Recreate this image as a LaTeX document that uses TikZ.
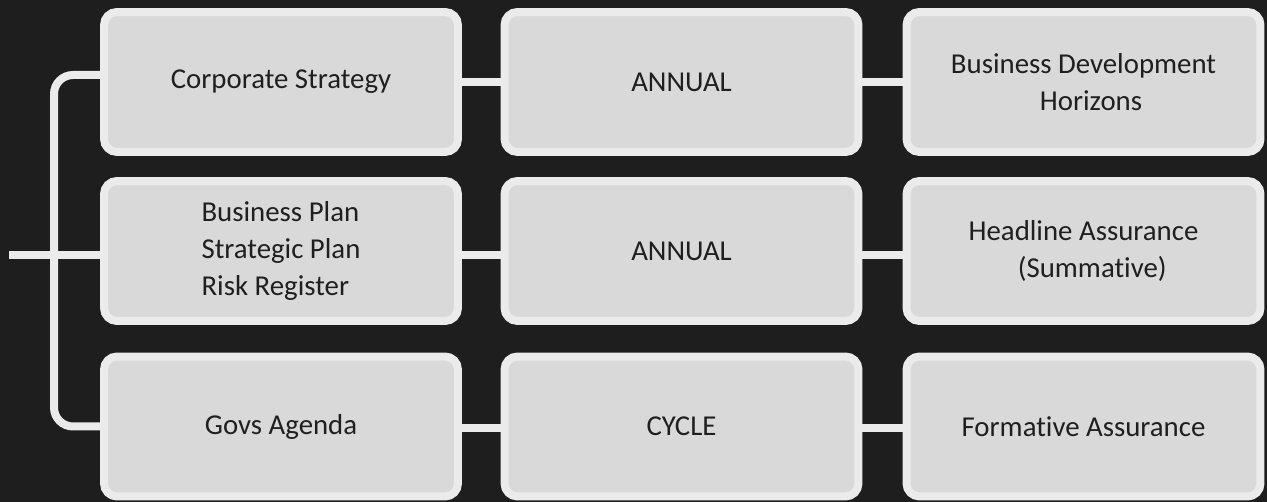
\documentclass[tikz,border=0pt]{standalone}
\usepackage{fontspec}
\setmainfont[Ligatures={NoCommon}]{Carlito}
\usetikzlibrary{calc}
\definecolor{bgdark}{HTML}{1E1E1E}
\definecolor{boxline}{HTML}{EBEBEB}
\definecolor{boxfill}{HTML}{D9D9D9}
\definecolor{boxtext}{HTML}{1F1F1F}

\begin{document}
\begin{tikzpicture}[
  x=0.02cm, y=-0.02cm,
  stage/.style={draw=boxline, line width=0.16cm, fill=boxfill, rounded corners=0.26cm, minimum width=7.08cm, minimum height=2.8cm, inner sep=0pt, align=center, text=boxtext, font=\fontsize{16.4pt}{21.3pt}\selectfont},
  link/.style={draw=boxline, line width=0.16cm}
]
\fill[bgdark] (0,0) rectangle (1267,502);
\useasboundingbox (0,0) rectangle (1267,502);

\node[stage] (corp) at (281,82) {Corporate Strategy};
\node[stage] (annualA) at (681.5,82) {ANNUAL};
\node[stage] (bizdev) at (1083.5,82) {Business Development\\\hspace*{0.3cm}Horizons};
\node[stage, align=left] (plans) at (281,251) {Business Plan\\Strategic Plan\\Risk Register};
\node[stage] (annualB) at (681.5,251) {ANNUAL};
\node[stage] (headline) at (1083.5,251) {Headline Assurance\\\hspace*{0.35cm}(Summative)};
\node[stage] (govs) at (281,426.5) {Govs Agenda};
\node[stage] (cycle) at (681.5,426.5) {CYCLE};
\node[stage] (formative) at (1083.5,426.5) {Formative Assurance};

\coordinate (stub) at (9,255);
\coordinate (spine) at (54,255);

\draw[link] (corp.east) -- (annualA.west);
\draw[link] (annualA.east) -- (bizdev.west);
\draw[link] ([yshift=-0.08cm]plans.east) -- ([yshift=-0.08cm]annualB.west);
\draw[link] ([yshift=-0.08cm]annualB.east) -- ([yshift=-0.08cm]headline.west);
\draw[link] ([yshift=-0.03cm]govs.east) -- ([yshift=-0.03cm]cycle.west);
\draw[link] ([yshift=-0.03cm]cycle.east) -- ([yshift=-0.03cm]formative.west);

\draw[link, rounded corners=0.38cm] ([yshift=0.14cm]corp.west) -| (spine) |- (govs.west);
\draw[link] (stub) -- (plans.west |- stub);
\end{tikzpicture}
\end{document}
